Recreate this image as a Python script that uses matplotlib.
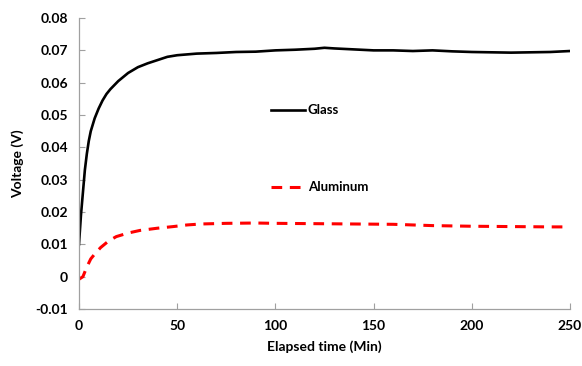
import matplotlib.pyplot as plt

# data
t_glass = [0, 1, 2, 3, 4, 5, 6, 8, 10, 12, 14, 16, 20, 25, 30, 35, 40, 45, 50, 60, 70, 80, 90,
           100, 110, 120, 125, 130, 140, 150, 160, 170, 180, 190, 200, 210, 220, 230, 240, 250]
glass = [0.010, 0.019, 0.026, 0.033, 0.038, 0.042, 0.045, 0.049, 0.052, 0.0545, 0.0565,
         0.058, 0.0605, 0.063, 0.0648, 0.066, 0.067, 0.068, 0.0685, 0.069, 0.0692, 0.0695,
         0.0696, 0.0700, 0.0702, 0.0705, 0.0708, 0.0706, 0.0703, 0.0700, 0.0700, 0.0698,
         0.0700, 0.0697, 0.0695, 0.0694, 0.0693, 0.0694, 0.0695, 0.0698]

t_alu = [0, 2, 4, 6, 8, 11, 15, 19, 25, 31, 40, 48, 55, 62, 75, 90, 100, 120, 140, 160,
         170, 180, 200, 220, 240, 250]
alu = [-0.0008, 0.000, 0.003, 0.0055, 0.007, 0.009, 0.011, 0.0124, 0.0135, 0.0143, 0.015,
       0.0155, 0.016, 0.0163, 0.0165, 0.0166, 0.0165, 0.0164, 0.0163, 0.0162, 0.016, 0.0158,
       0.0156, 0.0155, 0.0154, 0.0154]

x_ticks = [0, 50, 100, 150, 200, 250]
y_ticks = [-0.01, 0, 0.01, 0.02, 0.03, 0.04, 0.05, 0.06, 0.07, 0.08]
y_labels = ["-0.01", "0", "0.01", "0.02", "0.03", "0.04", "0.05", "0.06", "0.07", "0.08"]

plt.rcParams['font.family'] = ['Lato', 'DejaVu Sans']

fig = plt.figure(figsize=(5.82, 3.66), dpi=100)
ax = fig.add_axes([0.1357, 0.1557, 0.8436, 0.795])

ax.plot(t_glass, glass, color='black', lw=1.9)
ax.plot(t_alu, alu, color='#ff0000', lw=2.2, dashes=(3.5, 2.5))

ax.set_xlim(0, 250)
ax.set_ylim(-0.01, 0.08)
ax.set_xticks(x_ticks)
ax.set_yticks(y_ticks)
ax.set_yticklabels(y_labels)

for s in ['top', 'right']:
    ax.spines[s].set_visible(False)
for s in ['left', 'bottom']:
    ax.spines[s].set_color('#a0a0a0')
    ax.spines[s].set_linewidth(0.9)

ax.tick_params(direction='in', length=4, color='#a0a0a0', labelsize=10, pad=8)
for lab in ax.get_xticklabels() + ax.get_yticklabels():
    lab.set_fontweight('bold')

ax.set_xlabel("Elapsed time (Min)", fontsize=10, fontweight='bold', labelpad=6)
ax.set_ylabel("Voltage (V)", fontsize=10, fontweight='bold', labelpad=8)

# legend drawn inside the plot like the original
ax.plot([98, 115], [0.0517, 0.0517], color='black', lw=1.9)
ax.text(116.5, 0.0517, "Glass", fontsize=9.5, fontweight='bold', va='center')
ax.plot([98, 115], [0.0276, 0.0276], color='#ff0000', lw=2.2, dashes=(3.5, 2.5))
ax.text(116.5, 0.0276, "Aluminum", fontsize=9.5, fontweight='bold', va='center')

fig.savefig("out.png", dpi=100)
